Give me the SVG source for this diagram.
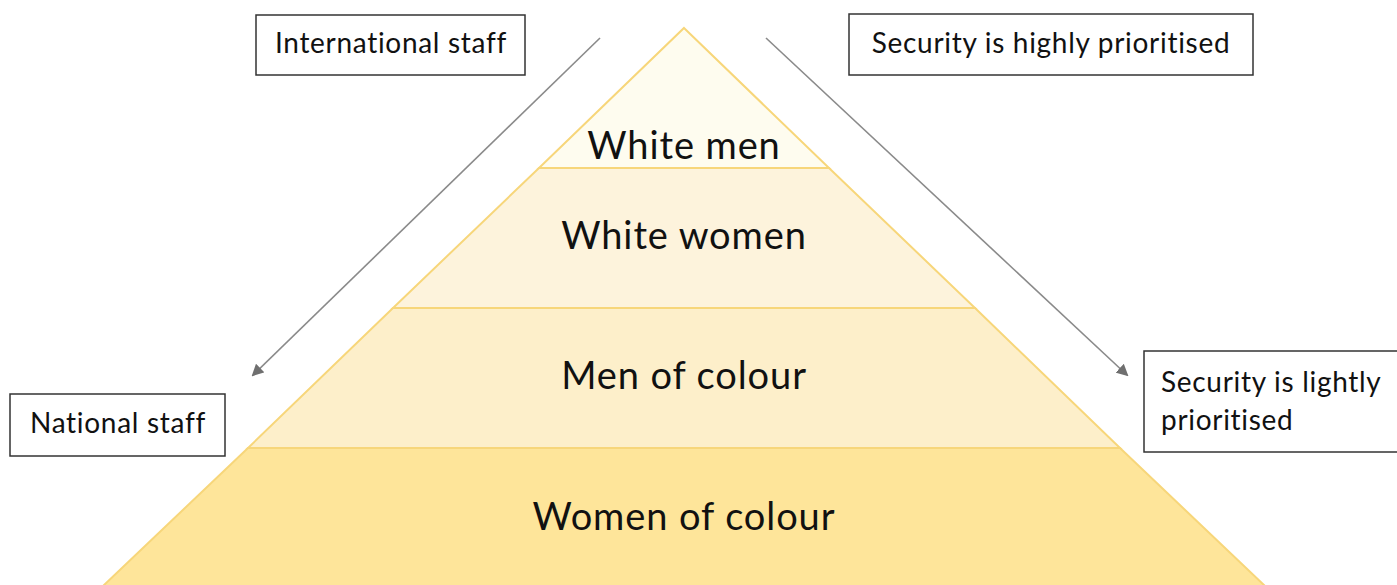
<svg xmlns="http://www.w3.org/2000/svg" width="1397" height="585" viewBox="0 0 1397 585">
<style>
.lbl{font-family:Lato,"Noto Sans","Liberation Sans",sans-serif;font-size:38px;letter-spacing:0.9px;fill:#111;text-anchor:middle}
.box{fill:#fff;stroke:#333;stroke-width:1.5}
.bt{font-family:Lato,"Noto Sans","Liberation Sans",sans-serif;font-size:28px;letter-spacing:0.7px;fill:#111}
.conn{stroke:#8a8a8a;stroke-width:1.6;fill:none;marker-end:url(#ah)}
.layer{stroke:#f7d67a;stroke-width:2}
</style>
<defs>
<marker id="ah" markerWidth="12" markerHeight="12" refX="10" refY="6" orient="auto" markerUnits="userSpaceOnUse">
<path d="M0,0 L12,6 L0,12 Z" fill="#6f6f6f"/>
</marker>
</defs>
<rect width="1397" height="585" fill="#fff"/>
<g id="layer-women-colour">
<polygon class="layer" points="248,448 1120,448 1265,586 103,586" fill="#fee59a"/>
<text class="lbl" x="684" y="530">Women of colour</text>
</g>
<g id="layer-men-colour">
<polygon class="layer" points="393,308 975,308 1120,448 248,448" fill="#fdefca"/>
<text class="lbl" x="684" y="389">Men of colour</text>
</g>
<g id="layer-white-women">
<polygon class="layer" points="539,168 829,168 975,308 393,308" fill="#fdf3dc"/>
<text class="lbl" x="684" y="249">White women</text>
</g>
<g id="layer-white-men">
<polygon class="layer" points="684,28 829,168 539,168" fill="#fefcef"/>
<text class="lbl" x="684" y="159">White men</text>
</g>
<g id="connectors">
<line class="conn" x1="600" y1="38" x2="253" y2="375"/>
<line class="conn" x1="766" y1="38" x2="1127" y2="375"/>
</g>
<g id="intl-staff">
<rect class="box" x="256" y="15" width="269" height="60"/>
<text class="bt" x="391" y="53" text-anchor="middle">International staff</text>
</g>
<g id="security-high">
<rect class="box" x="849" y="14" width="404" height="61"/>
<text class="bt" x="1051" y="53" text-anchor="middle">Security is highly prioritised</text>
</g>
<g id="national-staff">
<rect class="box" x="10" y="394" width="215" height="62"/>
<text class="bt" x="118" y="433" text-anchor="middle">National staff</text>
</g>
<g id="security-light">
<rect class="box" x="1144" y="351" width="260" height="101"/>
<text class="bt" x="1161" y="392">Security is lightly</text>
<text class="bt" x="1161" y="430">prioritised</text>
</g>
</svg>
